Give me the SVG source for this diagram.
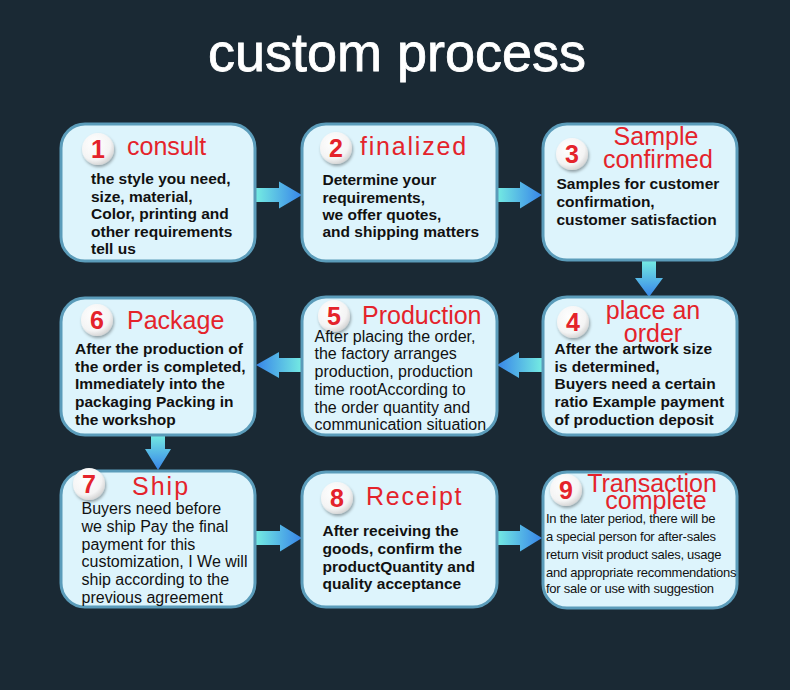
<svg xmlns="http://www.w3.org/2000/svg" width="790" height="690" viewBox="0 0 790 690">
<style>
.box{fill:#ddf4fc;stroke:#5b9cba;stroke-width:3}
.ttl{font-family:"Liberation Sans",Arial,sans-serif;font-size:25px;fill:#e4232b}
.num{font-family:"Liberation Sans",Arial,sans-serif;font-size:25px;font-weight:bold;fill:#e4232b;text-anchor:middle}
.bb{font-family:"Liberation Sans",Arial,sans-serif;font-size:15.5px;font-weight:bold;fill:#111}
.br{font-family:"Liberation Sans",Arial,sans-serif;font-size:16px;fill:#111}
.bs{font-family:"Liberation Sans",Arial,sans-serif;font-size:13px;letter-spacing:-0.25px;fill:#111}
.badge{fill:url(#gBadge);filter:url(#sh)}
</style>
<defs>
<linearGradient id="gR" x1="0" y1="0" x2="1" y2="0"><stop offset="0" stop-color="#74ebe2"/><stop offset="1" stop-color="#3784e9"/></linearGradient>
<linearGradient id="gL" x1="1" y1="0" x2="0" y2="0"><stop offset="0" stop-color="#74ebe2"/><stop offset="1" stop-color="#3784e9"/></linearGradient>
<linearGradient id="gD" x1="0" y1="0" x2="0" y2="1"><stop offset="0" stop-color="#74ebe2"/><stop offset="1" stop-color="#3784e9"/></linearGradient>
<radialGradient id="gBadge" cx="0.4" cy="0.35" r="0.7"><stop offset="0" stop-color="#ffffff"/><stop offset="0.7" stop-color="#f4f4f4"/><stop offset="1" stop-color="#cfcfcf"/></radialGradient>
<filter id="sh" x="-30%" y="-30%" width="160%" height="160%"><feDropShadow dx="1" dy="2" stdDeviation="1.5" flood-color="#000" flood-opacity="0.35"/></filter>
</defs>
<rect width="790" height="690" fill="#1a2934"/>
<text x="397" y="71" font-family="Liberation Sans,Arial,sans-serif" font-size="54" fill="#ffffff" stroke="#ffffff" stroke-width="0.8" text-anchor="middle">custom process</text>

<g id="connectors">
<path fill="url(#gR)" d="M256,188 H279 V181.5 L302,195 L279,208.5 V202 H256 Z"/>
<path fill="url(#gR)" d="M497,188 H520 V181.5 L542,195 L520,208.5 V202 H497 Z"/>
<path fill="url(#gD)" d="M642,261 V278 H635 L649,297 L663,278 H656 V261 Z"/>
<path fill="url(#gL)" d="M542,358 H519 V352 L497,365 L519,378 V372 H542 Z"/>
<path fill="url(#gL)" d="M302,358 H279 V352 L256,365 L279,378 V372 H302 Z"/>
<path fill="url(#gD)" d="M151,435 V449 H145 L158,470 L171,449 H165 V435 Z"/>
<path fill="url(#gR)" d="M256,531 H280 V524.5 L302,538 L280,551.5 V545 H256 Z"/>
<path fill="url(#gR)" d="M497,531 H520 V524.5 L542,538 L520,551.5 V545 H497 Z"/>
</g>

<g id="node1">
<rect class="box" x="61" y="124" width="194" height="137" rx="24"/>
<circle class="badge" cx="98" cy="149" r="16"/>
<text class="num" x="98" y="158">1</text>
<text class="ttl" x="127" y="155">consult</text>
<text class="bb"><tspan x="91" y="184">the style you need,</tspan><tspan x="91" y="201.7">size, material,</tspan><tspan x="91" y="219.3">Color, printing and</tspan><tspan x="91" y="236.8">other requirements</tspan><tspan x="91" y="254.4">tell us</tspan></text>
</g>

<g id="node2">
<rect class="box" x="302" y="124" width="195" height="137" rx="24"/>
<circle class="badge" cx="336" cy="148" r="16"/>
<text class="num" x="336" y="157">2</text>
<text class="ttl" x="360" y="155" letter-spacing="1.8">finalized</text>
<text class="bb"><tspan x="322.5" y="185">Determine your</tspan><tspan x="322.5" y="202.6">requirements,</tspan><tspan x="322.5" y="220">we offer quotes,</tspan><tspan x="322.5" y="237.4">and shipping matters</tspan></text>
</g>

<g id="node3">
<rect class="box" x="543" y="124" width="194" height="136" rx="24"/>
<circle class="badge" cx="572" cy="154" r="16"/>
<text class="num" x="572" y="163">3</text>
<text class="ttl" text-anchor="middle"><tspan x="656" y="145">Sample</tspan><tspan x="658" y="167.5">confirmed</tspan></text>
<text class="bb"><tspan x="556.5" y="189.3">Samples for customer</tspan><tspan x="556.5" y="207.2">confirmation,</tspan><tspan x="556.5" y="225">customer satisfaction</tspan></text>
</g>

<g id="node4">
<rect class="box" x="543" y="297" width="194" height="138" rx="24"/>
<circle class="badge" cx="573" cy="322" r="16"/>
<text class="num" x="573" y="331">4</text>
<text class="ttl" text-anchor="middle"><tspan x="653" y="318.5">place an</tspan><tspan x="653" y="342">order</tspan></text>
<text class="bb"><tspan x="554.5" y="354">After the artwork size</tspan><tspan x="554.5" y="371.7">is determined,</tspan><tspan x="554.5" y="389.3">Buyers need a certain</tspan><tspan x="554.5" y="407.2">ratio Example payment</tspan><tspan x="554.5" y="425">of production deposit</tspan></text>
</g>

<g id="node5">
<rect class="box" x="302" y="297" width="195" height="138" rx="24"/>
<circle class="badge" cx="334" cy="316" r="16"/>
<text class="num" x="334" y="325">5</text>
<text class="ttl" x="362" y="323.5">Production</text>
<text class="br"><tspan x="314.5" y="341.7">After placing the order,</tspan><tspan x="314.5" y="359.4">the factory arranges</tspan><tspan x="314.5" y="377.1">production, production</tspan><tspan x="314.5" y="394.8">time rootAccording to</tspan><tspan x="314.5" y="412.5">the order quantity and</tspan><tspan x="314.5" y="430.2">communication situation</tspan></text>
</g>

<g id="node6">
<rect class="box" x="61" y="298" width="194" height="137" rx="24"/>
<circle class="badge" cx="97" cy="320" r="16"/>
<text class="num" x="97" y="329">6</text>
<text class="ttl" x="127" y="328.5">Package</text>
<text class="bb"><tspan x="75" y="354">After the production of</tspan><tspan x="75" y="371.7">the order is completed,</tspan><tspan x="75" y="389.3">Immediately into the</tspan><tspan x="75" y="407.2">packaging Packing in</tspan><tspan x="75" y="425">the workshop</tspan></text>
</g>

<g id="node7">
<rect class="box" x="61" y="471" width="194" height="136" rx="24"/>
<circle class="badge" cx="89" cy="484" r="16"/>
<text class="num" x="89" y="493">7</text>
<text class="ttl" x="132" y="495" letter-spacing="2">Ship</text>
<text class="br"><tspan x="81.5" y="514">Buyers need before</tspan><tspan x="81.5" y="531.7">we ship Pay the final</tspan><tspan x="81.5" y="549.6">payment for this</tspan><tspan x="81.5" y="567.3">customization, I We will</tspan><tspan x="81.5" y="585">ship  according to the</tspan><tspan x="81.5" y="602.7">previous agreement</tspan></text>
</g>

<g id="node8">
<rect class="box" x="302" y="472" width="195" height="135" rx="24"/>
<circle class="badge" cx="337" cy="498" r="16"/>
<text class="num" x="337" y="507">8</text>
<text class="ttl" x="366" y="505" letter-spacing="1.8">Receipt</text>
<text class="bb"><tspan x="322.5" y="536">After receiving the</tspan><tspan x="322.5" y="553.8">goods, confirm the</tspan><tspan x="322.5" y="571.6">productQuantity and</tspan><tspan x="322.5" y="589.3">quality acceptance</tspan></text>
</g>

<g id="node9">
<rect class="box" x="543" y="472" width="194" height="136" rx="24"/>
<circle class="badge" cx="566" cy="490" r="16"/>
<text class="num" x="566" y="499">9</text>
<text class="ttl" text-anchor="middle"><tspan x="652" y="491.7">Transaction</tspan><tspan x="656" y="509">complete</tspan></text>
<text class="bs"><tspan x="546" y="523.3">In the later period, there will be</tspan><tspan x="546" y="541">a special  person for after-sales</tspan><tspan x="546" y="558.7">return visit product sales, usage</tspan><tspan x="546" y="576.5">and appropriate recommendations</tspan><tspan x="546" y="593.3">for sale or use with suggestion</tspan></text>
</g>
</svg>
